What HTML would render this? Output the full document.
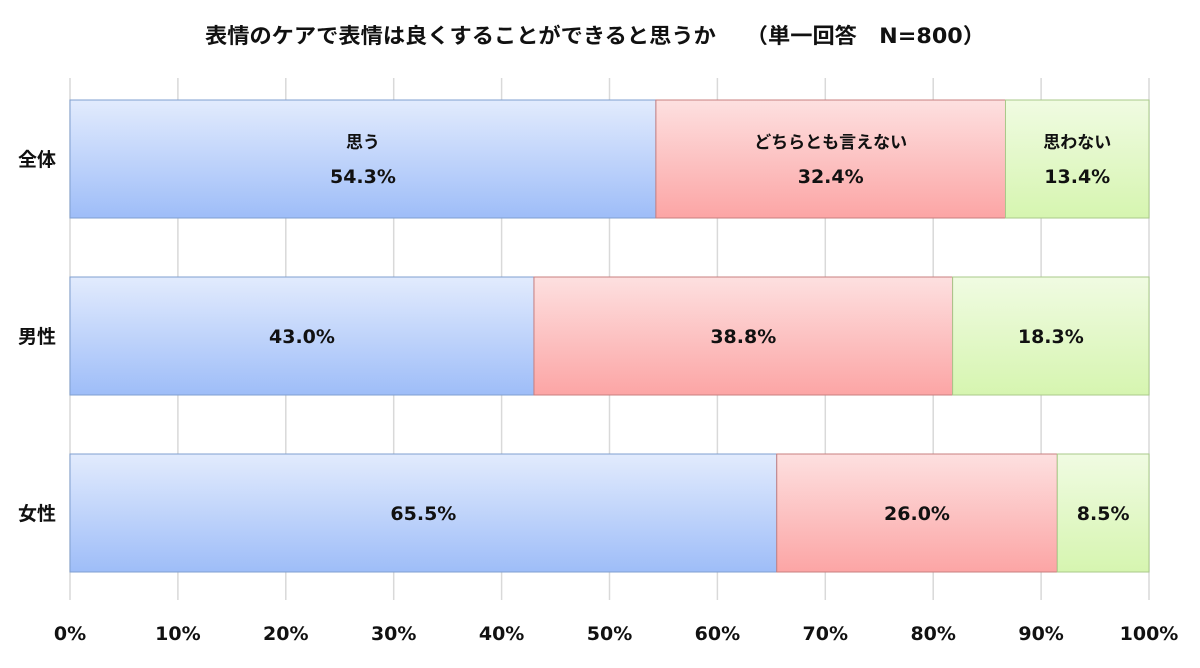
<!DOCTYPE html>
<html><head><meta charset="utf-8"><style>
body{margin:0;background:#fff;font-family:"DejaVu Sans","Noto Sans CJK JP",sans-serif;}
text{font-family:"DejaVu Sans","Noto Sans CJK JP",sans-serif;}
</style></head><body>
<svg id="c" width="1200" height="664" xmlns="http://www.w3.org/2000/svg">
<defs>
<linearGradient id="gb" x1="0" y1="0" x2="0" y2="1"><stop offset="0" stop-color="#e2ebfd"/><stop offset="1" stop-color="#9ebdf8"/></linearGradient>
<linearGradient id="gr" x1="0" y1="0" x2="0" y2="1"><stop offset="0" stop-color="#fde0e0"/><stop offset="1" stop-color="#fca5a5"/></linearGradient>
<linearGradient id="gg" x1="0" y1="0" x2="0" y2="1"><stop offset="0" stop-color="#f0fbe2"/><stop offset="1" stop-color="#d6f5b0"/></linearGradient>
</defs>
<text x="595" y="43" text-anchor="middle" font-size="21" font-weight="bold" fill="#111" textLength="780" lengthAdjust="spacingAndGlyphs">表情のケアで表情は良くすることができると思うか　 （単一回答　N=800）</text>
</svg>
<script>
const categories=["全体","男性","女性"];
const seriesNames=["思う","どちらとも言えない","思わない"];
const agree=[54.3,43.0,65.5];
const neutral=[32.4,38.8,26.0];
const disagree=[13.4,18.3,8.5];
const ticks=[0,10,20,30,40,50,60,70,80,90,100];
const svg=document.getElementById('c');
const NS='http://www.w3.org/2000/svg';
const x0=70,x1=1149,rowTop=[100,277,454],bh=118;
const xs=v=>x0+(x1-x0)*Math.min(v,100)/100;
function mk(t,a,p){const e=document.createElementNS(NS,t);for(const k in a)e.setAttribute(k,a[k]);(p||svg).appendChild(e);return e;}
ticks.forEach(t=>{
 const l=mk('line',{x1:xs(t),x2:xs(t),y1:78,y2:600,stroke:'#d9d9d9','stroke-width':1.5});
 
 
 const tx=mk('text',{x:xs(t),y:640,'text-anchor':'middle','font-size':19,'font-weight':'bold',fill:'#111'});
 tx.textContent=t+'%';
 
 
});
const series=[agree,neutral,disagree],fills=['url(#gb)','url(#gr)','url(#gg)'],strokes=['#7f9fd0','#c87f7f','#a9c98a'];
categories.forEach((c,i)=>{
 const y=rowTop[i];
 const lab=mk('text',{x:37,y:y+bh/2+7,'text-anchor':'middle','font-size':19,'font-weight':'bold',fill:'#111'});
 lab.textContent=c;
 
 
 let cum=0;
 series.forEach((s,j)=>{
  const a=xs(cum),b=xs(cum+s[i]);cum+=s[i];
  const r=mk('rect',{x:a,y:y,width:b-a,height:bh,fill:fills[j],stroke:strokes[j],'stroke-width':1});
  
  
  const cx=(a+b)/2;
  if(i===0){
   const n=mk('text',{x:cx,y:y+48,'text-anchor':'middle','font-size':17,'font-weight':'bold',fill:'#111'});
   n.textContent=seriesNames[j];
   
   
  }
  const v=mk('text',{x:cx,y:i===0?y+83:y+bh/2+7,'text-anchor':'middle','font-size':19,'font-weight':'bold',fill:'#111'});
  v.textContent=s[i].toFixed(1)+'%';
  
  
 });
});
</script>
</body></html>
